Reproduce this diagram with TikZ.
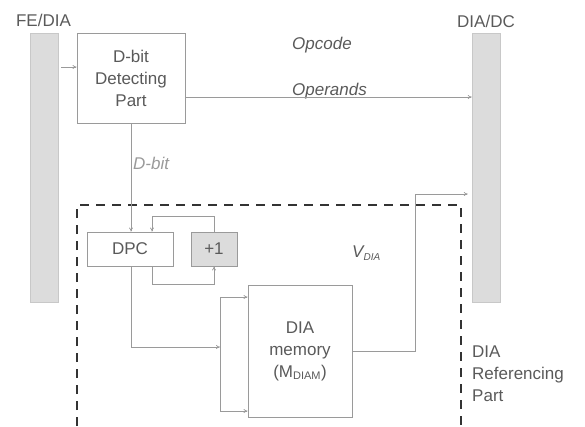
\documentclass[tikz,border=0pt]{standalone}
\usepackage{fontspec}
\setmainfont{Liberation Sans}
\usetikzlibrary{arrows.meta}
\definecolor{txt}{HTML}{5A5A5A}
\definecolor{ln}{HTML}{9A9A9A}
\definecolor{barfill}{HTML}{DCDCDC}
\definecolor{barline}{HTML}{C8C8C8}
\definecolor{dash}{HTML}{333333}
\tikzset{
  bar/.style={draw=barline, fill=barfill, minimum width=28pt, minimum height=269pt, inner sep=0pt},
  blk/.style={draw=ln, line width=0.8pt, fill=white, text=txt, align=center, inner sep=0pt, font=\fontsize{17}{22}\selectfont},
  lbl/.style={text=txt, inner sep=0pt, font=\fontsize{17}{22}\selectfont},
  ilbl/.style={text=txt, inner sep=0pt, font=\fontsize{17}{22}\selectfont\itshape},
  arr/.style={draw=ln, line width=0.7pt, -{To[length=4pt,width=4pt]}},
  con/.style={draw=ln, line width=0.7pt},
  dashbox/.style={draw=dash, line width=2.2pt, dash pattern=on 9pt off 7pt}
}
\begin{document}
\begin{tikzpicture}[x=1pt,y=-1pt]
\useasboundingbox (0,0) rectangle (585,426);
% bars
\node[bar] (leftbar) at (44,167.5) {};
\node[bar] (rightbar) at (486,167.5) {};
\node[lbl] (fedia) at (43.5,20) {FE/DIA};
\node[lbl] (diadc) at (486,21) {DIA/DC};
% dashed region
\coordinate (d1) at (77,426);
\coordinate (d2) at (77,205);
\coordinate (d3) at (461,205);
\coordinate (d4) at (461,426);
\draw[dashbox] (d1) -- (d2) -- (d3) -- (d4);
% blocks
\node[blk, minimum width=108pt, minimum height=90pt] (dbit) at (131,78) {D-bit\\Detecting\\Part};
\node[blk, minimum width=86pt, minimum height=34pt] (dpc) at (130,249) {DPC};
\node[blk, fill=barfill, minimum width=46pt, minimum height=34pt] (plus) at (214,249) {+1};
\node[blk, minimum width=104pt, minimum height=132pt] (mem) at (300,351) {DIA\\memory\\(M\textsubscript{\fontsize{11}{11}\selectfont DIAM})};
% labels
\node[ilbl, anchor=base west] (opcode) at (292,49) {Opcode};
\node[ilbl, anchor=base west] (operands) at (292,95) {Operands};
\node[ilbl, text=ln, anchor=west] (dbitlbl) at (133,163) {D-bit};
\node[ilbl, anchor=west] (vdia) at (352,253) {V\textsubscript{\fontsize{10}{10}\selectfont\itshape DIA}};
\node[lbl, anchor=north west, align=left] (refpart) at (472,346) {DIA\\Referencing\\Part};
% connectors
\coordinate (in1) at (61,67);
\draw[arr] (in1) -- (in1 -| dbit.west);
\coordinate (op1) at (185,97);
\draw[arr] (op1) -- (op1 -| rightbar.west);
\draw[arr] (dbit.south) -- (dbit.south |- dpc.north);
\coordinate (lt) at (152,216);
\draw[arr] (plus.north) |- (lt) -- (lt |- dpc.north);
\coordinate (lb) at (152,284);
\draw[arr] (lb |- dpc.south) -- (lb) -| (plus.south);
\coordinate (j) at (220,347);
\draw[arr] (dbit.south |- dpc.south) |- (j);
\coordinate (s1) at (220,297);
\coordinate (s2) at (220,411);
\draw[con] (s1) -- (s2);
\draw[arr] (s1) -- (s1 -| mem.west);
\draw[arr] (s2) -- (s2 -| mem.west);
\coordinate (mo) at (415,194);
\draw[arr] (mem.east) -| (mo) -- ([xshift=-4pt]mo -| rightbar.west);
\end{tikzpicture}
\end{document}
